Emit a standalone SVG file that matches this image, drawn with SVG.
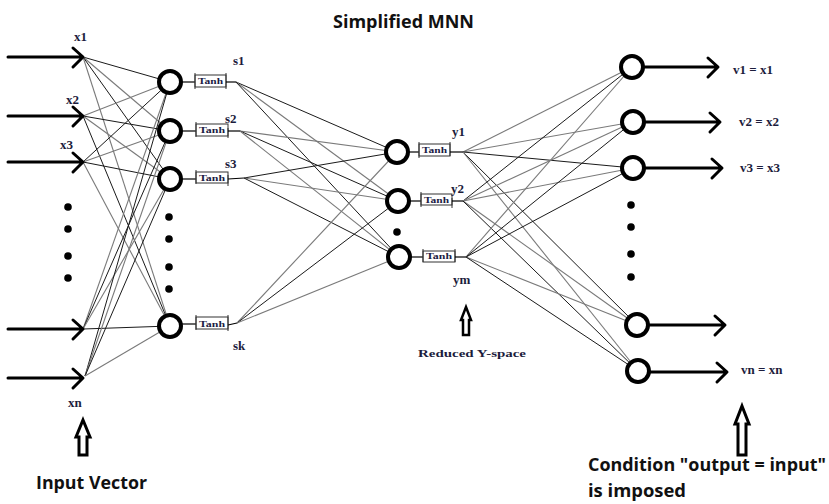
<svg xmlns="http://www.w3.org/2000/svg" width="829" height="504" viewBox="0 0 829 504">
  <defs>
    <style>
      .bg { fill: #ffffff; }
      .neuron { fill: #ffffff; stroke: #000000; stroke-width: 4; }
      .dot { fill: #000000; }
      .io { fill: none; stroke: #000000; stroke-width: 3; stroke-linecap: round; stroke-linejoin: round; }
      .edge-a { stroke: #1a1a1a; stroke-width: 1; }
      .edge-b { stroke: #7a7a7a; stroke-width: 1.1; }
      .stub { stroke: #000000; stroke-width: 1.2; }
      .tbox { fill: #ffffff; stroke: #333333; stroke-width: 1; }
      .tick { stroke: #333333; stroke-width: 1; }
      .tanh { font-family: "Liberation Serif", serif; font-weight: bold; font-size: 9px; fill: #1c1c44; }
      .lbl { font-family: "Liberation Serif", serif; font-weight: bold; font-size: 13px; fill: #1c1c3c; }
      .lbl-s { font-family: "Liberation Serif", serif; font-weight: bold; font-size: 11px; fill: #1c1c3c; }
      .cap { font-family: "Open Sans", "Liberation Sans", sans-serif; font-weight: bold; font-size: 17px; fill: #111111; }
      .cap-l { font-family: "Open Sans", "Liberation Sans", sans-serif; font-weight: bold; font-size: 18px; fill: #111111; }
      .up { fill: #ffffff; stroke: #000000; stroke-width: 3; stroke-linejoin: miter; }
    </style>
  </defs>

  <rect class="bg" x="0" y="0" width="829" height="504"/>

  <text class="cap" x="333" y="28" textLength="141" lengthAdjust="spacingAndGlyphs">Simplified MNN</text>

  <!-- weights: input -> hidden layer s -->
  <g id="connectors">
    <g id="w-input-s">
      <line class="edge-a" x1="83" y1="57" x2="170" y2="82"/>
      <line class="edge-b" x1="83" y1="57" x2="170" y2="131"/>
      <line class="edge-a" x1="83" y1="57" x2="170" y2="179"/>
      <line class="edge-b" x1="83" y1="57" x2="170" y2="326"/>
      <line class="edge-b" x1="83" y1="116" x2="170" y2="82"/>
      <line class="edge-a" x1="83" y1="116" x2="170" y2="131"/>
      <line class="edge-b" x1="83" y1="116" x2="170" y2="179"/>
      <line class="edge-a" x1="83" y1="116" x2="170" y2="326"/>
      <line class="edge-a" x1="83" y1="162" x2="170" y2="82"/>
      <line class="edge-b" x1="83" y1="162" x2="170" y2="131"/>
      <line class="edge-a" x1="83" y1="162" x2="170" y2="179"/>
      <line class="edge-b" x1="83" y1="162" x2="170" y2="326"/>
      <line class="edge-b" x1="83" y1="329" x2="170" y2="82"/>
      <line class="edge-a" x1="83" y1="329" x2="170" y2="131"/>
      <line class="edge-b" x1="83" y1="329" x2="170" y2="179"/>
      <line class="edge-a" x1="83" y1="329" x2="170" y2="326"/>
      <line class="edge-a" x1="85" y1="376" x2="170" y2="82"/>
      <line class="edge-b" x1="85" y1="376" x2="170" y2="131"/>
      <line class="edge-a" x1="85" y1="376" x2="170" y2="179"/>
      <line class="edge-b" x1="85" y1="376" x2="170" y2="326"/>
    </g>
    <!-- weights: s -> reduced y layer -->
    <g id="w-s-y">
      <line class="edge-a" x1="236" y1="82" x2="397" y2="152"/>
      <line class="edge-b" x1="236" y1="82" x2="398" y2="201"/>
      <line class="edge-a" x1="236" y1="82" x2="399" y2="257"/>
      <line class="edge-b" x1="240" y1="131" x2="397" y2="152"/>
      <line class="edge-a" x1="240" y1="131" x2="398" y2="201"/>
      <line class="edge-b" x1="240" y1="131" x2="399" y2="257"/>
      <line class="edge-a" x1="244" y1="178" x2="397" y2="152"/>
      <line class="edge-b" x1="244" y1="178" x2="398" y2="201"/>
      <line class="edge-a" x1="244" y1="178" x2="399" y2="257"/>
      <line class="edge-b" x1="237" y1="323" x2="397" y2="152"/>
      <line class="edge-a" x1="237" y1="323" x2="398" y2="201"/>
      <line class="edge-b" x1="237" y1="323" x2="399" y2="257"/>
    </g>
    <!-- weights: y -> output v -->
    <g id="w-y-v">
      <line class="edge-b" x1="463" y1="152" x2="632" y2="67"/>
      <line class="edge-b" x1="463" y1="152" x2="633" y2="122"/>
      <line class="edge-a" x1="463" y1="152" x2="633" y2="168"/>
      <line class="edge-a" x1="463" y1="152" x2="637" y2="325"/>
      <line class="edge-b" x1="463" y1="152" x2="638" y2="371"/>
      <line class="edge-a" x1="463" y1="201" x2="632" y2="67"/>
      <line class="edge-b" x1="463" y1="201" x2="633" y2="122"/>
      <line class="edge-b" x1="463" y1="201" x2="633" y2="168"/>
      <line class="edge-b" x1="463" y1="201" x2="637" y2="325"/>
      <line class="edge-a" x1="463" y1="201" x2="638" y2="371"/>
      <line class="edge-b" x1="466" y1="257" x2="632" y2="67"/>
      <line class="edge-a" x1="466" y1="257" x2="633" y2="122"/>
      <line class="edge-a" x1="466" y1="257" x2="633" y2="168"/>
      <line class="edge-b" x1="466" y1="257" x2="637" y2="325"/>
      <line class="edge-a" x1="466" y1="257" x2="638" y2="371"/>
    </g>
  </g>

  <!-- input vector arrows -->
  <g id="input-x1">
    <path class="io" d="M8 57 H82 M73 48 L83 57 L73 67"/>
    <text class="lbl" x="74" y="41">x1</text>
  </g>
  <g id="input-x2">
    <path class="io" d="M8 116 H82 M73 107 L83 116 L73 126"/>
    <text class="lbl" x="66" y="104">x2</text>
  </g>
  <g id="input-x3">
    <path class="io" d="M8 162 H82 M73 153 L83 162 L73 172"/>
    <text class="lbl" x="60" y="149">x3</text>
  </g>
  <g id="input-x4">
    <path class="io" d="M8 329 H82 M73 320 L83 329 L73 339"/>
  </g>
  <g id="input-xn">
    <path class="io" d="M8 378 H82 M73 369 L83 378 L73 388"/>
    <text class="lbl" x="68" y="407">xn</text>
  </g>
  <g id="input-dots">
    <circle class="dot" cx="68" cy="207" r="3.8"/>
    <circle class="dot" cx="68" cy="229" r="3.8"/>
    <circle class="dot" cx="68" cy="256" r="3.8"/>
    <circle class="dot" cx="68" cy="278" r="3.8"/>
  </g>

  <!-- hidden layer s with tanh activations -->
  <g id="node-s1">
    <line class="stub" x1="182" y1="82" x2="195" y2="82"/>
    <rect class="tbox" x="195" y="75" width="31" height="12"/>
    <line class="tick" x1="195" y1="73" x2="195" y2="89"/>
    <line class="tick" x1="226" y1="73" x2="226" y2="89"/>
    <line class="stub" x1="226" y1="82" x2="236" y2="82"/>
    <text class="tanh" x="198" y="84" textLength="25" lengthAdjust="spacingAndGlyphs">Tanh</text>
    <circle class="neuron" cx="170" cy="82" r="11"/>
    <text class="lbl" x="233" y="65">s1</text>
  </g>
  <g id="node-s2">
    <line class="stub" x1="182" y1="131" x2="196" y2="131"/>
    <rect class="tbox" x="196" y="124" width="32" height="12"/>
    <line class="tick" x1="196" y1="122" x2="196" y2="137"/>
    <line class="tick" x1="228" y1="128" x2="228" y2="138"/>
    <line class="stub" x1="228" y1="131" x2="240" y2="131"/>
    <text class="tanh" x="199" y="133" textLength="26" lengthAdjust="spacingAndGlyphs">Tanh</text>
    <circle class="neuron" cx="170" cy="131" r="11"/>
    <text class="lbl" x="225" y="123">s2</text>
  </g>
  <g id="node-s3">
    <line class="stub" x1="182" y1="179" x2="196" y2="179"/>
    <rect class="tbox" x="196" y="172" width="32" height="11"/>
    <line class="tick" x1="196" y1="170" x2="196" y2="184"/>
    <line class="tick" x1="228" y1="175" x2="228" y2="186"/>
    <line class="stub" x1="228" y1="179" x2="244" y2="178"/>
    <text class="tanh" x="199" y="181" textLength="26" lengthAdjust="spacingAndGlyphs">Tanh</text>
    <circle class="neuron" cx="170" cy="179" r="11"/>
    <text class="lbl" x="225" y="168">s3</text>
  </g>
  <g id="s-dots">
    <circle class="dot" cx="169" cy="217" r="3.8"/>
    <circle class="dot" cx="169" cy="239" r="3.8"/>
    <circle class="dot" cx="169" cy="267" r="3.8"/>
    <circle class="dot" cx="169" cy="289" r="3.8"/>
  </g>
  <g id="node-sk">
    <line class="stub" x1="182" y1="324" x2="196" y2="324"/>
    <rect class="tbox" x="196" y="317" width="32" height="12"/>
    <line class="tick" x1="196" y1="315" x2="196" y2="330"/>
    <line class="tick" x1="228" y1="315" x2="228" y2="331"/>
    <line class="stub" x1="228" y1="325" x2="237" y2="323"/>
    <text class="tanh" x="199" y="327" textLength="26" lengthAdjust="spacingAndGlyphs">Tanh</text>
    <circle class="neuron" cx="170" cy="326" r="11"/>
    <text class="lbl" x="233" y="350">sk</text>
  </g>

  <!-- reduced y layer -->
  <g id="node-y1">
    <line class="stub" x1="409" y1="152" x2="419" y2="152"/>
    <rect class="tbox" x="419" y="144" width="31" height="12"/>
    <line class="tick" x1="419" y1="142" x2="419" y2="158"/>
    <line class="tick" x1="450" y1="142" x2="450" y2="156"/>
    <line class="stub" x1="450" y1="152" x2="463" y2="152"/>
    <text class="tanh" x="422" y="153" textLength="25" lengthAdjust="spacingAndGlyphs">Tanh</text>
    <circle class="neuron" cx="397" cy="152" r="11"/>
    <text class="lbl" x="452" y="136">y1</text>
  </g>
  <g id="node-y2">
    <line class="stub" x1="410" y1="201" x2="421" y2="201"/>
    <rect class="tbox" x="421" y="194" width="31" height="11"/>
    <line class="tick" x1="421" y1="192" x2="421" y2="207"/>
    <line class="tick" x1="452" y1="198" x2="452" y2="208"/>
    <line class="stub" x1="452" y1="201" x2="463" y2="201"/>
    <text class="tanh" x="424" y="203" textLength="25" lengthAdjust="spacingAndGlyphs">Tanh</text>
    <circle class="neuron" cx="398" cy="201" r="11"/>
    <text class="lbl" x="451" y="193">y2</text>
  </g>
  <circle id="y-dot" class="dot" cx="397" cy="232" r="3.8"/>
  <g id="node-ym">
    <line class="stub" x1="411" y1="257" x2="423" y2="257"/>
    <rect class="tbox" x="423" y="251" width="32" height="11"/>
    <line class="tick" x1="423" y1="249" x2="423" y2="262"/>
    <line class="tick" x1="455" y1="249" x2="455" y2="262"/>
    <line class="stub" x1="455" y1="257" x2="466" y2="257"/>
    <text class="tanh" x="426" y="259" textLength="26" lengthAdjust="spacingAndGlyphs">Tanh</text>
    <circle class="neuron" cx="399" cy="257" r="11"/>
    <text class="lbl" x="453" y="284">ym</text>
  </g>

  <!-- output layer v -->
  <g id="node-v1">
    <path class="io" d="M644 67 H717 M708 58 L718 67 L708 77"/>
    <circle class="neuron" cx="632" cy="67" r="11"/>
    <text class="lbl" x="733" y="74">v1 = x1</text>
  </g>
  <g id="node-v2">
    <path class="io" d="M645 122 H719 M710 113 L720 122 L710 132"/>
    <circle class="neuron" cx="633" cy="122" r="11"/>
    <text class="lbl" x="739" y="126">v2 = x2</text>
  </g>
  <g id="node-v3">
    <path class="io" d="M645 168 H721 M712 159 L722 168 L712 178"/>
    <circle class="neuron" cx="633" cy="168" r="11"/>
    <text class="lbl" x="740" y="172">v3 = x3</text>
  </g>
  <g id="v-dots">
    <circle class="dot" cx="631" cy="205" r="3.8"/>
    <circle class="dot" cx="631" cy="227" r="3.8"/>
    <circle class="dot" cx="631" cy="254" r="3.8"/>
    <circle class="dot" cx="631" cy="277" r="3.8"/>
  </g>
  <g id="node-v4">
    <path class="io" d="M649 325 H724 M715 316 L725 325 L715 335"/>
    <circle class="neuron" cx="637" cy="325" r="11"/>
  </g>
  <g id="node-vn">
    <path class="io" d="M650 372 H726 M717 363 L727 372 L717 382"/>
    <circle class="neuron" cx="638" cy="371" r="11"/>
    <text class="lbl" x="741" y="374">vn = xn</text>
  </g>

  <!-- annotations -->
  <g id="note-input">
    <path class="up" d="M83 420 L90 437 L87 437 L87 455 L79 455 L79 437 L76 437 Z"/>
    <text class="cap-l" x="36" y="489" textLength="111" lengthAdjust="spacingAndGlyphs">Input Vector</text>
  </g>
  <g id="note-y">
    <path class="up" d="M466 307 L471 320 L469 320 L469 335 L463 335 L463 320 L461 320 Z" style="stroke-width:2.5"/>
    <text class="lbl-s" x="418" y="357" textLength="108" lengthAdjust="spacingAndGlyphs">Reduced Y-space</text>
  </g>
  <g id="note-output">
    <path class="up" d="M742 406 L749 424 L746 424 L746 455 L738 455 L738 424 L735 424 Z"/>
    <text class="cap-l" x="588" y="471" textLength="238" lengthAdjust="spacingAndGlyphs">Condition "output = input"</text>
    <text class="cap-l" x="588" y="497" textLength="98" lengthAdjust="spacingAndGlyphs">is imposed</text>
  </g>
</svg>
